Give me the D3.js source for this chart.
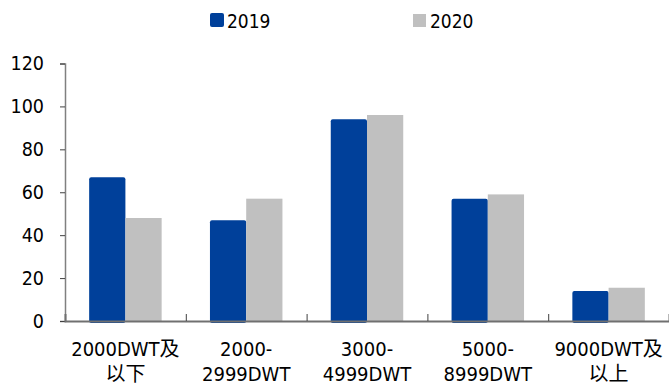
<!DOCTYPE html>
<html><head><meta charset="utf-8">
<script src="https://cdn.jsdelivr.net/npm/d3@7"></script>
<style>
body{margin:0;background:#fff;}
text{font-family:"DejaVu Sans Condensed","DejaVu Sans","Noto Sans CJK SC",sans-serif;fill:#000;}
</style></head>
<body><svg id="c" width="669" height="387"></svg>
<script>
const categories = [["2000DWT及","以下"],["2000-","2999DWT"],["3000-","4999DWT"],["5000-","8999DWT"],["9000DWT及","以上"]];
const series2019 = [67, 47, 94, 57, 14];
const series2020 = [48, 57, 96, 59, 15.5];
const seriesNames = ["2019","2020"];
const yTicks = [0,20,40,60,80,100,120];

(function(){
const svg = d3.select("#c");
const mLeft = 65, mRight = 669, mTop = 63.5, mBottom = 321;
const colors = ["#00409A","#C0C0C0"];

const x = d3.scaleBand().domain(d3.range(categories.length)).range([mLeft, mRight]).paddingInner(0).paddingOuter(0);
const y = d3.scaleLinear().domain([0,120]).range([mBottom, mTop]);
const bw = x.bandwidth()*0.3;

// bars
const data = [series2019, series2020];
data.forEach((vals, si) => {
  svg.append("g").selectAll("rect").data(vals).join("rect")
    .attr("x", (d,i) => x(i) + x.bandwidth()/2 - bw + si*bw)
    .attr("y", d => y(d))
    .attr("width", bw)
    .attr("height", d => mBottom - y(d) + (si===0?2:0))
    .attr("rx", si===0?2:0)
    .attr("fill", colors[si]);
});

// y axis
const ya = svg.append("g").attr("transform", `translate(${mLeft},0)`)
  .call(d3.axisLeft(y).tickValues(yTicks).tickSize(5).tickPadding(16));
ya.select(".domain").attr("stroke","#808080").attr("stroke-width",1.5);
ya.selectAll(".tick line").attr("stroke","#404040");
ya.selectAll(".tick text").attr("font-size",19.5).attr("fill","#000")
  .style("font-family",'"DejaVu Sans Condensed","DejaVu Sans",sans-serif');

// x axis
const xa = svg.append("g").attr("transform", `translate(0,${mBottom})`)
  .call(d3.axisBottom(d3.scaleLinear().domain([mLeft,mRight]).range([mLeft,mRight]))
    .tickValues(d3.range(1,categories.length).map(i=>x(i))).tickSize(-7).tickFormat(""));
xa.select(".domain").attr("stroke","#707070").attr("stroke-width",2);
xa.selectAll(".tick line").attr("stroke","#404040");

// category labels
const lab = svg.append("g").selectAll("text").data(categories).join("text")
  .attr("text-anchor","middle").attr("font-size",20)
  .attr("x",(d,i)=>x(i)+x.bandwidth()/2);
lab.each(function(d){
  const t = d3.select(this);
  t.append("tspan").attr("x", t.attr("x")).attr("y",356).text(d[0]);
  t.append("tspan").attr("x", t.attr("x")).attr("y",381).text(d[1]);
});

// legend
const legX = [210, 413];
seriesNames.forEach((n,i)=>{
  svg.append("rect").attr("x",legX[i]).attr("y", i===0?13:14).attr("width",i===0?14:13).attr("height",i===0?14:13)
    .attr("rx", i===0?2:0).attr("fill",colors[i]);
  svg.append("text").attr("x",legX[i]+17).attr("y",28).attr("font-size",19).text(n);
});
})();
</script></body></html>
